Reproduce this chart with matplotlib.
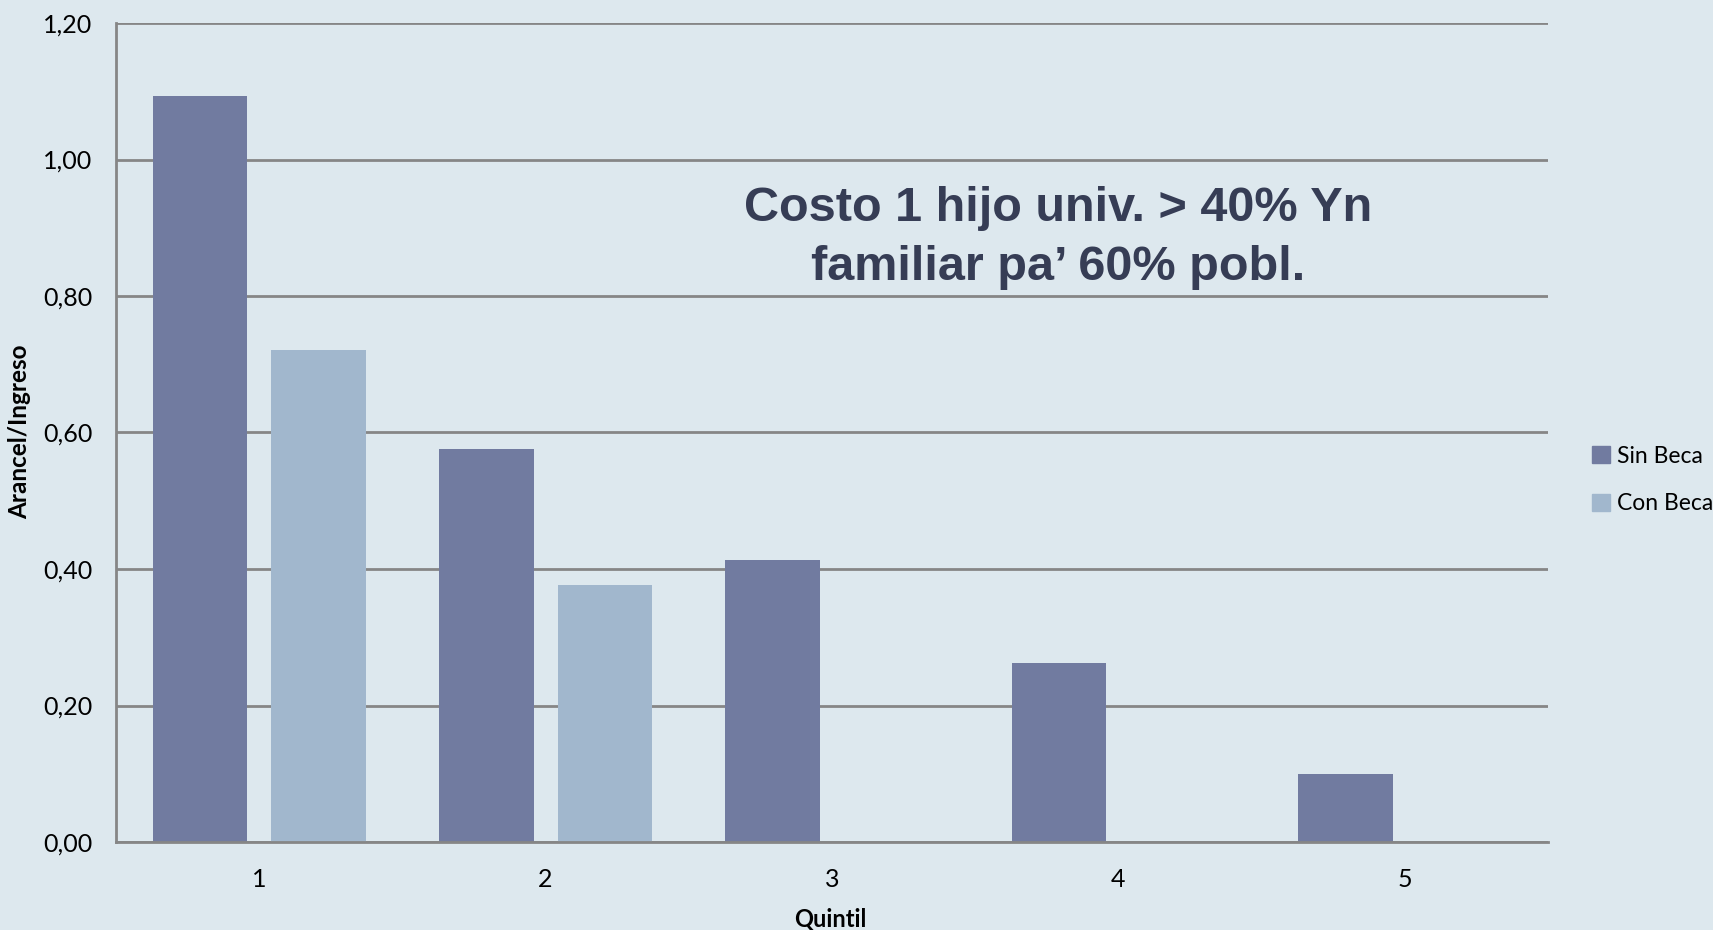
import numpy as np
import matplotlib.pyplot as plt
from matplotlib.patches import Patch

quintiles = ['1', '2', '3', '4', '5']
sin_beca = [1.093, 0.576, 0.413, 0.262, 0.100]
con_beca = [0.721, 0.376, 0.0, 0.0, 0.0]
yticks = np.arange(0, 1.21, 0.2)

bg = '#DDE8EE'
c_sin = '#717BA0'
c_con = '#A1B7CD'
grid_c = '#868686'

fig = plt.figure(figsize=(17.13, 9.30), dpi=100, facecolor=bg)
ax = fig.add_axes([116/1713, 1 - 842/930, (1548-116)/1713, (842-23)/930])
ax.set_facecolor(bg)

x = np.arange(len(quintiles))
ax.bar(x - 0.207, sin_beca, width=0.33, color=c_sin, zorder=3)
ax.bar(x + 0.207, con_beca, width=0.33, color=c_con, zorder=3)

ax.set_xlim(-0.5, 4.5)
ax.set_ylim(0, 1.2)
ax.set_yticks(yticks)
ax.set_yticklabels([('%.2f' % v).replace('.', ',') for v in yticks],
                   fontsize=18, family='Lato')
ax.set_xticks(x)
ax.set_xticklabels(quintiles, fontsize=18, family='Lato')
ax.tick_params(axis='y', length=0, pad=17)
ax.tick_params(axis='x', length=0, pad=19)
ax.yaxis.grid(True, color=grid_c, linewidth=2, zorder=1)

for s in ['top', 'right']:
    ax.spines[s].set_visible(False)
for s in ['left', 'bottom']:
    ax.spines[s].set_color(grid_c)
    ax.spines[s].set_linewidth(2)
ax.spines['bottom'].set_zorder(4)

fig.text(20/1713, 1 - 432/930, 'Arancel/Ingreso', rotation=90, ha='center', va='center',
         fontsize=17.5, fontweight='bold', family='Lato')
fig.text(830/1713, 1 - 919/930, 'Quintil', ha='center', va='center',
         fontsize=17, fontweight='bold', family='Lato')

fig.text(1058/1713, 1 - 238/930, 'Costo 1 hijo univ. > 40% Yn\nfamiliar pa\u2019 60% pobl.',
         ha='center', va='center', fontsize=35, fontweight='bold',
         family='Liberation Sans', color='#363D55', linespacing=1.38)

handles = [Patch(color=c_sin, label='Sin Beca'), Patch(color=c_con, label='Con Beca')]
fig.legend(handles=handles, loc='center left', bbox_to_anchor=(1581/1713, 1 - 480/930),
           frameon=False, prop={'family': 'Lato', 'size': 16.5},
           handlelength=0.75, handleheight=0.75, handletextpad=0.3, labelspacing=1.15,
           borderpad=0)

fig.savefig('out.png', dpi=100, facecolor=bg)
